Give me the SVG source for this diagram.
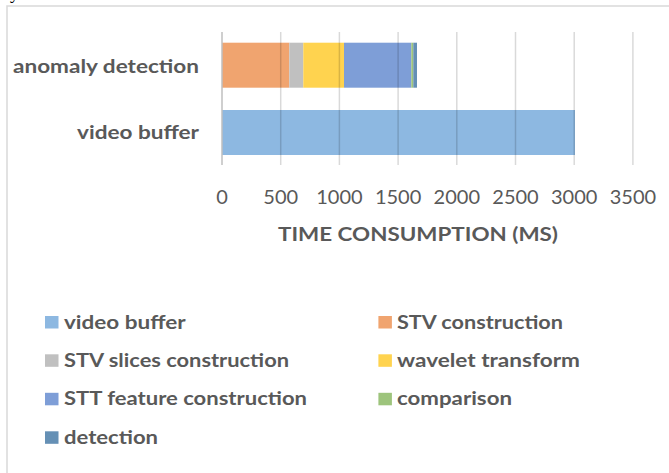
<svg xmlns="http://www.w3.org/2000/svg" width="669" height="473" viewBox="0 0 669 473">
<style>
.lbl{font-family:Lato,"Open Sans","Liberation Sans",sans-serif;fill:#595959;font-weight:bold;font-size:19.5px}
.tick{font-family:Lato,"Open Sans","Liberation Sans",sans-serif;fill:#595959;font-size:20px;text-anchor:middle}
.grid{stroke:#000;stroke-opacity:0.15;stroke-width:1.5}
</style>
<rect width="669" height="473" fill="#fff"/>
<text x="3" y="-1" font-family="Liberation Serif,serif" font-size="18" fill="#000">system</text>
<rect x="7" y="6" width="700" height="500" fill="none" stroke="#d9d9d9" stroke-width="1.5"/>
<g id="bar-anomaly">
<rect x="222" y="42.7" width="67.3" height="45" fill="#f0a46f"/>
<rect x="289.3" y="42.7" width="14" height="45" fill="#c0c0c0"/>
<rect x="303.3" y="42.7" width="40.7" height="45" fill="#ffd34f"/>
<rect x="344" y="42.7" width="67.3" height="45" fill="#7e9ed7"/>
<rect x="411.3" y="42.7" width="2" height="45" fill="#9dc47c"/>
<rect x="413.3" y="42.7" width="3.7" height="45" fill="#6590b5"/>
</g>
<g id="bar-video">
<rect x="222" y="110" width="353" height="45" fill="#8db8e1"/>
</g>
<g id="gridlines">
<line class="grid" x1="280.7" y1="32" x2="280.7" y2="165"/>
<line class="grid" x1="339.4" y1="32" x2="339.4" y2="165"/>
<line class="grid" x1="398.1" y1="32" x2="398.1" y2="165"/>
<line class="grid" x1="456.8" y1="32" x2="456.8" y2="165"/>
<line class="grid" x1="515.5" y1="32" x2="515.5" y2="165"/>
<line class="grid" x1="574.2" y1="32" x2="574.2" y2="165"/>
<line class="grid" x1="632.9" y1="32" x2="632.9" y2="165"/>
<line x1="222" y1="32" x2="222" y2="165" stroke="#bfbfbf" stroke-width="1.5"/>
</g>
<g id="category-labels">
<text class="lbl" x="199" y="72.5" text-anchor="end" textLength="186" lengthAdjust="spacingAndGlyphs">anomaly detection</text>
<text class="lbl" x="199" y="138.5" text-anchor="end" textLength="122" lengthAdjust="spacingAndGlyphs">video buffer</text>
</g>
<g id="axis">
<text class="tick" x="222" y="204">0</text>
<text class="tick" x="280.7" y="204">500</text>
<text class="tick" x="339.4" y="204">1000</text>
<text class="tick" x="398.1" y="204">1500</text>
<text class="tick" x="456.8" y="204">2000</text>
<text class="tick" x="515.5" y="204">2500</text>
<text class="tick" x="574.2" y="204">3000</text>
<text class="tick" x="632.9" y="204">3500</text>
<text class="lbl" x="278" y="241" font-size="18" textLength="280" lengthAdjust="spacingAndGlyphs" style="font-size:18px">TIME CONSUMPTION (MS)</text>
</g>
<g id="legend">
<rect x="45" y="316" width="13.5" height="12.5" fill="#8db8e1"/>
<text class="lbl" x="64" y="328.5" textLength="121.6" lengthAdjust="spacingAndGlyphs">video buffer</text>
<rect x="378.4" y="316" width="13.5" height="12.5" fill="#f0a46f"/>
<text class="lbl" x="397" y="328.5" textLength="166" lengthAdjust="spacingAndGlyphs">STV construction</text>
<rect x="45" y="354.3" width="13.5" height="12.5" fill="#c0c0c0"/>
<text class="lbl" x="64" y="366.8" textLength="225" lengthAdjust="spacingAndGlyphs">STV slices construction</text>
<rect x="378.4" y="354.3" width="13.5" height="12.5" fill="#ffd34f"/>
<text class="lbl" x="397" y="366.8" textLength="183" lengthAdjust="spacingAndGlyphs">wavelet transform</text>
<rect x="45" y="392.8" width="13.5" height="12.5" fill="#7e9ed7"/>
<text class="lbl" x="64" y="405.3" textLength="243" lengthAdjust="spacingAndGlyphs">STT feature construction</text>
<rect x="378.4" y="392.8" width="13.5" height="12.5" fill="#9dc47c"/>
<text class="lbl" x="397" y="405.3" textLength="115" lengthAdjust="spacingAndGlyphs">comparison</text>
<rect x="45" y="431.3" width="13.5" height="12.5" fill="#6590b5"/>
<text class="lbl" x="64" y="443.8" textLength="94" lengthAdjust="spacingAndGlyphs">detection</text>
</g>
</svg>
